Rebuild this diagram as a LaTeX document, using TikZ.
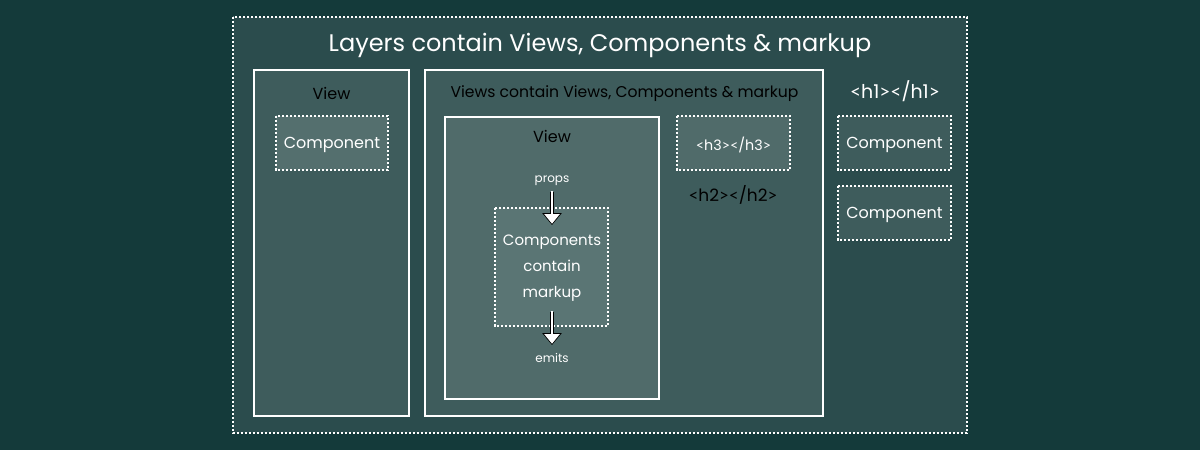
\documentclass[tikz,border=0pt]{standalone}
\usepackage{fontspec}
\setmainfont{Poppins}
\newfontfamily\symf{Lato}
\newcommand\ltag{{\symf<}}
\newcommand\rtag{{\symf>}}
\usetikzlibrary{arrows.meta}
\definecolor{bgc}{RGB}{20,58,58}
\definecolor{layerc}{RGB}{43,76,77}
\definecolor{viewc}{RGB}{62,92,92}
\definecolor{innerc}{RGB}{80,107,106}
\definecolor{compc}{RGB}{90,117,116}
\definecolor{compl}{RGB}{84,111,110}
\tikzset{
  dotbox/.style={draw=white, line width=2.6pt, dash pattern=on 2.2pt off 1.8pt},
  solidbox/.style={draw=white, line width=2pt},
  lbl/.style={inner sep=0pt, anchor=base, font=\fontsize{16}{19}\selectfont},
  wlbl/.style={lbl, text=white},
  blbl/.style={lbl, text=black},
  small/.style={inner sep=0pt, anchor=base, text=white, font=\fontsize{12}{14}\selectfont},
  arrowout/.style={draw=black, line width=4pt, -{Triangle[width=19pt,length=12pt]}},
  arrowin/.style={draw=white, line width=2pt, -{Triangle[width=15pt,length=9.5pt]}, shorten >=1.3pt},
}
\begin{document}
\begin{tikzpicture}[x=1pt,y=-1pt]
\useasboundingbox (0,0) rectangle (1200,450);
\fill[bgc] (0,0) rectangle (1200,450);
% layer
\filldraw[fill=layerc, dotbox] (233,17) rectangle (967,433);
\node[wlbl, font=\fontsize{24}{28}\selectfont] (title) at (600,51.5) {Layers contain Views, Components \& markup};
% left view
\filldraw[fill=viewc, solidbox] (254,70) rectangle (409,416);
\node[blbl] (lview) at (331.5,99) {View};
\filldraw[fill=compl, dotbox] (276,116) rectangle (388,170);
\node[wlbl] (lcomp) at (332,148.3) {Component};
% big view
\filldraw[fill=viewc, solidbox] (425,70) rectangle (823,416);
\node[blbl, font=\fontsize{15.6}{18}\selectfont] (bview) at (624.5,97.3) {Views contain Views, Components \& markup};
% inner view
\filldraw[fill=innerc, solidbox] (445,117) rectangle (659,399);
\node[blbl] (iview) at (552,142.5) {View};
\node[small] (props) at (552,182.7) {props};
\filldraw[fill=compc, dotbox] (495,208) rectangle (608,326);
\node[wlbl, font=\fontsize{15}{18}\selectfont] (c1) at (552,245) {Components};
\node[wlbl, font=\fontsize{15}{18}\selectfont] (c2) at (552,271.7) {contain};
\node[wlbl, font=\fontsize{15}{18}\selectfont] (c3) at (552,297.7) {markup};
\node[small] (emits) at (552,362.3) {emits};
\coordinate (p1) at (552,192);
\coordinate (p2) at (552,225);
\coordinate (e1) at (552,312);
\coordinate (e2) at (552,345);
\draw[arrowout] (p1) -- (p2);
\draw[arrowin] ([yshift=1pt]p1) -- (p2);
\draw[arrowout] (e1) -- (e2);
\draw[arrowin] ([yshift=1pt]e1) -- (e2);
% h3
\filldraw[fill=innerc, dotbox] (677,116) rectangle (790,170);
\node[wlbl, font=\fontsize{14.3}{16}\selectfont] (h3) at (733.5,150.7) {\ltag h3\rtag\ltag/h3\rtag};
\node[blbl, font=\fontsize{17}{19}\selectfont] (h2) at (733,201.7) {\ltag h2\rtag\ltag/h2\rtag};
% right
\node[wlbl, font=\fontsize{19}{22}\selectfont] (h1) at (895,98) {\ltag h1\rtag\ltag/h1\rtag};
\filldraw[fill=viewc, dotbox] (838,116) rectangle (951,170);
\node[wlbl] (rc1) at (894.5,148.3) {Component};
\filldraw[fill=viewc, dotbox] (838,186) rectangle (951,240);
\node[wlbl] (rc2) at (894.5,218.3) {Component};
\end{tikzpicture}
\end{document}
